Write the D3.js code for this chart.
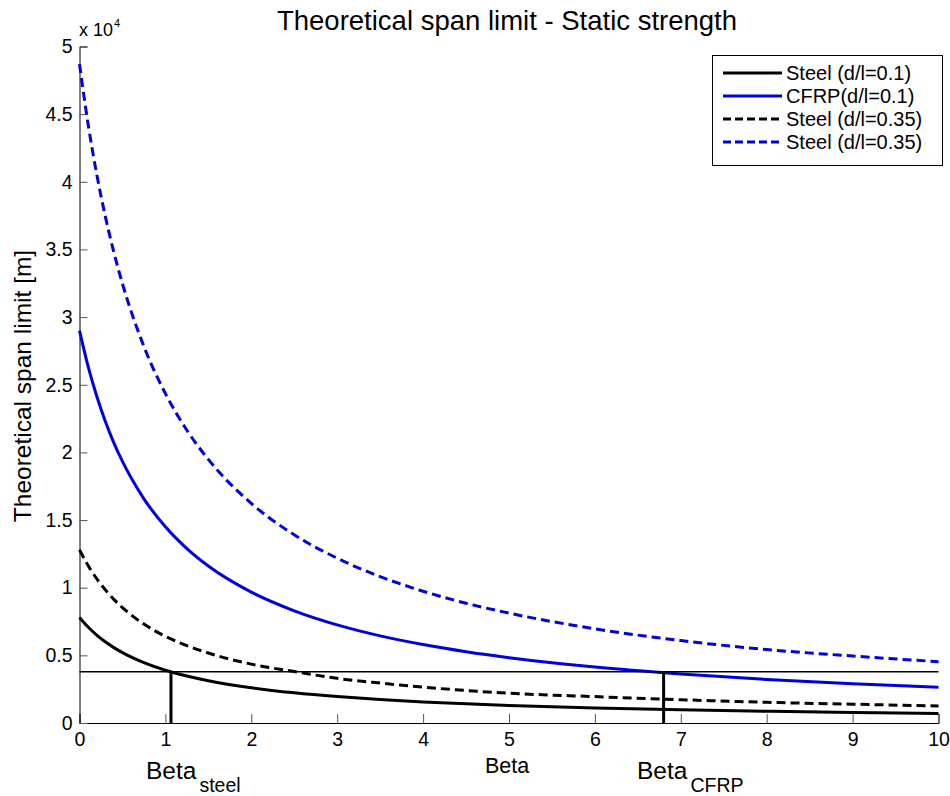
<!DOCTYPE html>
<html>
<head>
<meta charset="utf-8">
<script src="https://cdn.jsdelivr.net/npm/d3@7"></script>
<style>
  body { margin: 0; background: #fff; }
  svg { font-family: Arial, "Liberation Sans", sans-serif; }
</style>
</head>
<body>
<svg id="chart" width="950" height="796"></svg>
<script>
// ---- data ----
const betas      = [0, 0.1, 0.2, 0.3, 0.4, 0.5, 0.75, 1, 1.25, 1.5, 2, 2.5, 3, 3.5, 4, 4.5, 5, 6, 7, 8, 9, 10];
const steel01    = [7800, 7090, 6500, 6000, 5570, 5200, 4460, 3900, 3470, 3120, 2600, 2230, 1950, 1730, 1560, 1420, 1300, 1110, 975, 867, 780, 709];
const cfrp01     = [29000, 26360, 24170, 22310, 20710, 19330, 16570, 14500, 12890, 11600, 9670, 8290, 7250, 6440, 5800, 5270, 4830, 4140, 3630, 3220, 2900, 2640];
const steel035   = [12800, 11640, 10670, 9850, 9140, 8530, 7310, 6400, 5720, 5170, 4350, 3800, 3300, 2950, 2650, 2400, 2200, 1950, 1720, 1530, 1390, 1260];
const cfrp035    = [48700, 44270, 40580, 37460, 34790, 32470, 27830, 24350, 21640, 19480, 16230, 13910, 12180, 10820, 9740, 8850, 8120, 6960, 6090, 5430, 4950, 4530];
const seriesNames = ["Steel (d/l=0.1)", "CFRP(d/l=0.1)", "Steel (d/l=0.35)", "Steel (d/l=0.35)"];
const xTicks = [0, 1, 2, 3, 4, 5, 6, 7, 8, 9, 10];
const yTicks = [0, 5000, 10000, 15000, 20000, 25000, 30000, 35000, 40000, 45000, 50000];
const limitSpan = 3790;
const betaSteel = 1.065;
const betaCFRP = 6.80;

// ---- layout ----
const svg = d3.select("#chart");
const pLeft = 79.5, pRight = 938.5, pTop = 46.5, pBottom = 723;
const x = d3.scaleLinear().domain([0, 10]).range([pLeft, pRight]);
const y = d3.scaleLinear().domain([0, 50000]).range([pBottom, pTop]);

const styles = [
  { color: "#000000", dash: null },
  { color: "#0000dd", dash: null },
  { color: "#000000", dash: "9,5" },
  { color: "#0000dd", dash: "9,5" }
];
const allSeries = [steel01, cfrp01, steel035, cfrp035];

// axes (MATLAB-style inward ticks)
const xAxis = d3.axisBottom(x).tickValues(xTicks).tickSize(-9).tickPadding(9).tickFormat(d3.format("d"));
const yAxis = d3.axisLeft(y).tickValues(yTicks).tickSize(-8).tickPadding(7).tickFormat(d => d / 10000);

const gx = svg.append("g").attr("transform", `translate(0,${pBottom})`).call(xAxis);
const gy = svg.append("g").attr("transform", `translate(${pLeft},0)`).call(yAxis);
[gx, gy].forEach(g => {
  g.select(".domain").attr("stroke", "#000").attr("stroke-width", 1);
  g.selectAll(".tick line").attr("stroke", "#555").attr("stroke-width", 1);
  g.selectAll(".tick text").attr("font-size", 19.5).attr("fill", "#000")
    .attr("font-family", "Arial, 'Liberation Sans', sans-serif");
});

// curves
const line = d3.line().x(d => x(d[0])).y(d => y(d[1])).curve(d3.curveMonotoneX);
allSeries.forEach((vals, i) => {
  svg.append("path")
    .datum(betas.map((b, j) => [b, vals[j]]))
    .attr("d", line)
    .attr("fill", "none")
    .attr("stroke", styles[i].color)
    .attr("stroke-width", 3)
    .attr("stroke-dasharray", styles[i].dash);
});

// reference lines
svg.append("line")
  .attr("x1", x(0)).attr("x2", x(10)).attr("y1", y(limitSpan)).attr("y2", y(limitSpan))
  .attr("stroke", "#000").attr("stroke-width", 1.5);
[betaSteel, betaCFRP].forEach(b => {
  svg.append("line")
    .attr("x1", x(b)).attr("x2", x(b)).attr("y1", y(limitSpan)).attr("y2", y(0))
    .attr("stroke", "#000").attr("stroke-width", 3);
});

// title & labels
svg.append("text").attr("x", 507).attr("y", 30).attr("text-anchor", "middle")
  .attr("font-size", 27.5).text("Theoretical span limit - Static strength");

const mult = svg.append("text").attr("x", 79).attr("y", 36).attr("font-size", 18);
mult.append("tspan").text("x 10");
mult.append("tspan").attr("dy", -9).attr("dx", 1).attr("font-size", 11).text("4");

svg.append("text").attr("transform", `translate(31,386) rotate(-90)`)
  .attr("text-anchor", "middle").attr("font-size", 24.5).text("Theoretical span limit [m]");

svg.append("text").attr("x", 507).attr("y", 773).attr("text-anchor", "middle")
  .attr("font-size", 21.5).text("Beta");

function betaLabel(xPos, sub) {
  const t = svg.append("text").attr("x", xPos).attr("y", 779).attr("font-size", 24.5);
  t.append("tspan").text("Beta");
  t.append("tspan").attr("dy", 13).attr("dx", 3).attr("font-size", 19.5).text(sub);
}
betaLabel(146, "steel");
betaLabel(637, "CFRP");

// legend
const lg = svg.append("g");
lg.append("rect").attr("x", 712.5).attr("y", 55.5).attr("width", 230).attr("height", 110)
  .attr("fill", "#fff").attr("stroke", "#000").attr("stroke-width", 1);
const rowY = [73, 96, 119, 142];
seriesNames.forEach((name, i) => {
  lg.append("line").attr("x1", 723).attr("x2", 782).attr("y1", rowY[i]).attr("y2", rowY[i])
    .attr("stroke", styles[i].color).attr("stroke-width", 3)
    .attr("stroke-dasharray", styles[i].dash ? "8,4" : null);
  lg.append("text").attr("x", 786).attr("y", rowY[i] + 7).attr("font-size", 20).text(name);
});
</script>
</body>
</html>
